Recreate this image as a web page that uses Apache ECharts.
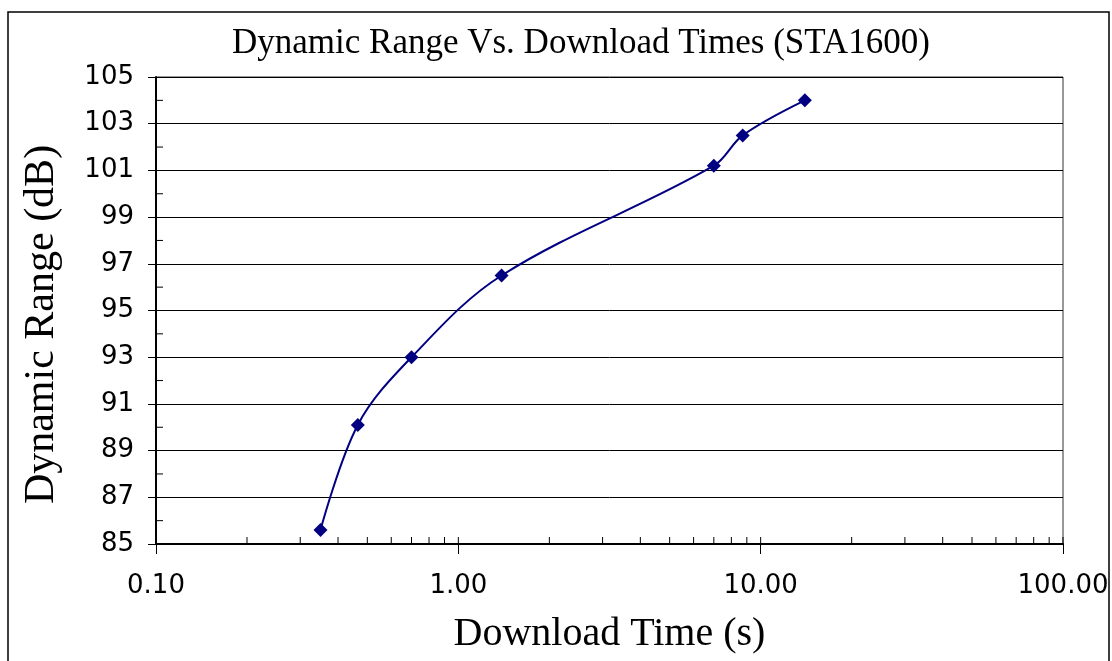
<!DOCTYPE html>
<html>
<head>
<meta charset="utf-8">
<script src="https://cdn.jsdelivr.net/npm/echarts@6/dist/echarts.min.js"></script>
<style>
  html, body { margin: 0; padding: 0; background: #fff; }
  #chart { width: 1112px; height: 661px; }
</style>
</head>
<body>
<div id="chart"></div>
<script>
// Download time (s) and resulting dynamic range (dB) for the STA1600
const downloadTimes = [0.35, 0.465, 0.70, 1.39, 7.0, 8.72, 14.0];
const dynamicRange = [85.6, 90.1, 93.0, 96.5, 101.2, 102.5, 104.0];

// Axis ranges and tick values
const xRange = [0.1, 100];
const yRange = [85, 105];
const yStep = 2;
const xInnerTicks = [0.1, 0.2, 0.3, 0.4, 0.5, 0.6, 0.7, 0.8, 0.9,
                     1, 2, 3, 4, 5, 6, 7, 8, 9,
                     10, 20, 30, 40, 50, 60, 70, 80, 90, 100];
const yInnerTicks = [86, 88, 90, 92, 94, 96, 98, 100, 102, 104];

const serif = '"Liberation Serif", "Times New Roman", serif';
const sans = '"DejaVu Sans", Verdana, sans-serif';

const chart = echarts.init(document.getElementById('chart'), null, { renderer: 'canvas' });

// short inward tick marks drawn through the axis scales
function innerTick(dx, dy) {
  return function (params, api) {
    const p = api.coord([api.value(0), api.value(1)]);
    return {
      type: 'line',
      shape: { x1: p[0], y1: p[1], x2: p[0] + dx, y2: p[1] + dy },
      style: { stroke: '#000', lineWidth: 1 }
    };
  };
}

chart.setOption({
  animation: false,
  backgroundColor: '#fff',
  title: {
    text: 'Dynamic Range Vs. Download Times (STA1600)',
    left: 232,
    top: 26,
    padding: 0,
    textStyle: { fontFamily: serif, fontSize: 35, fontWeight: 'normal', color: '#000' }
  },
  graphic: [{
    type: 'rect',
    shape: { x: 8, y: 12, width: 1101, height: 700 },
    style: { fill: 'none', stroke: '#000', lineWidth: 1.5 },
    silent: true
  }],
  grid: {
    left: 156, right: 49, top: 77, bottom: 117,
    show: true, borderColor: '#333', borderWidth: 1, backgroundColor: 'transparent'
  },
  xAxis: {
    type: 'log',
    logBase: 10,
    min: xRange[0],
    max: xRange[1],
    name: 'Download Time (s)',
    nameLocation: 'middle',
    nameGap: 70,
    nameTextStyle: { fontFamily: serif, fontSize: 40, color: '#000' },
    axisLine: { lineStyle: { color: '#000', width: 2 } },
    axisTick: { show: true, length: 10, lineStyle: { color: '#000', width: 1 } },
    axisLabel: {
      fontFamily: sans, fontSize: 26, color: '#000', margin: 29,
      formatter: v => Number(v).toFixed(2)
    },
    splitLine: { show: false },
    minorTick: { show: false }
  },
  yAxis: {
    type: 'value',
    min: yRange[0],
    max: yRange[1],
    interval: yStep,
    name: 'Dynamic Range (dB)',
    nameLocation: 'middle',
    nameGap: 93,
    nameTextStyle: { fontFamily: serif, fontSize: 42, color: '#000', padding: [0, 28, 0, 0] },
    axisLine: { show: true, lineStyle: { color: '#000', width: 2 } },
    axisTick: { show: true, length: 8, lineStyle: { color: '#000', width: 1 } },
    axisLabel: { fontFamily: sans, fontSize: 26, color: '#000', margin: 22 },
    splitLine: { show: true, lineStyle: { color: '#000', width: 1 } }
  },
  series: [
    {
      type: 'custom',
      silent: true,
      renderItem: innerTick(0, -7),
      data: xInnerTicks.map(v => [v, yRange[0]]),
      z: 1
    },
    {
      type: 'custom',
      silent: true,
      renderItem: innerTick(7, 0),
      data: yInnerTicks.map(v => [xRange[0], v]),
      z: 1
    },
    {
      type: 'line',
      name: 'Dynamic Range',
      data: downloadTimes.map((t, i) => [t, dynamicRange[i]]),
      smooth: 0.35,
      symbol: 'diamond',
      symbolSize: 14,
      lineStyle: { color: '#000080', width: 2 },
      itemStyle: { color: '#000080' },
      z: 3
    }
  ]
});
</script>
</body>
</html>
